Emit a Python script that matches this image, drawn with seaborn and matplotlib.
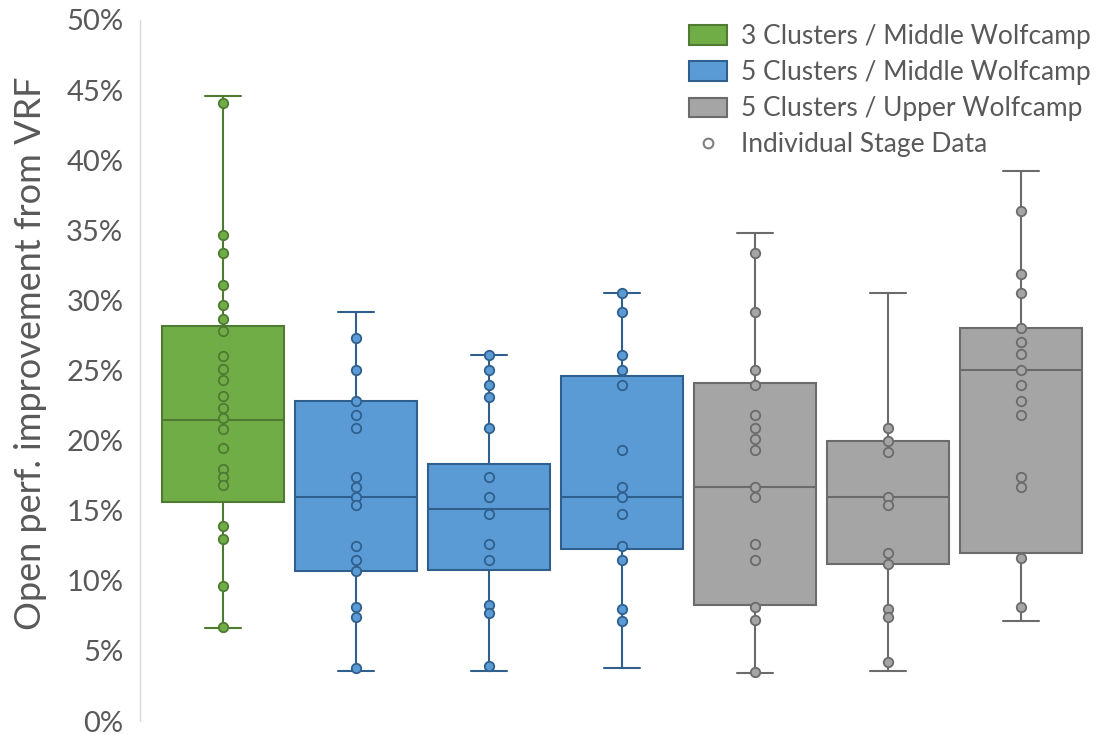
import numpy as np
import pandas as pd
import matplotlib
matplotlib.use("Agg")
import matplotlib.pyplot as plt
from matplotlib.patches import Patch
from matplotlib.lines import Line2D
import seaborn as sns

# Stage sets along the x axis (not labelled on the chart)
stage_sets = ["S1", "S2", "S3", "S4", "S5", "S6", "S7"]
series_names = ["3 Clusters / Middle Wolfcamp",
                "5 Clusters / Middle Wolfcamp",
                "5 Clusters / Upper Wolfcamp"]
series_of_set = [0, 1, 1, 1, 2, 2, 2]

# Box summaries (%): whisker ends, quartiles, median
box_low = [6.6, 3.6, 3.6, 3.8, 3.4, 3.6, 7.1]
box_q1 = [15.6, 10.7, 10.8, 12.3, 8.3, 11.2, 12.0]
box_med = [21.5, 16.0, 15.1, 16.0, 16.7, 16.0, 25.0]
box_q3 = [28.2, 22.8, 18.3, 24.6, 24.1, 20.0, 28.0]
box_high = [44.6, 29.2, 26.1, 30.5, 34.8, 30.5, 39.2]

# Individual stage data (%)
stages_1 = [44.1, 34.7, 33.4, 31.1, 29.7, 28.7, 27.8, 26.0, 25.1, 24.3, 23.2,
            22.3, 21.6, 20.8, 19.5, 18.0, 17.4, 16.8, 13.9, 13.0, 9.6, 6.7]
stages_2 = [27.3, 25.0, 22.8, 21.8, 20.9, 17.4, 16.7, 16.0, 15.4, 12.5, 11.5,
            10.7, 8.1, 7.4, 3.8]
stages_3 = [26.1, 25.0, 24.0, 23.1, 20.9, 17.4, 16.0, 14.8, 12.6, 11.5, 8.3,
            7.7, 3.9]
stages_4 = [30.5, 29.2, 26.1, 25.0, 24.0, 19.3, 16.7, 16.0, 14.8, 12.5, 11.5,
            8.0, 7.1]
stages_5 = [33.4, 29.2, 25.0, 24.0, 21.8, 20.9, 20.1, 19.3, 16.7, 16.0, 12.6,
            11.5, 8.1, 7.2, 3.5]
stages_6 = [20.9, 20.0, 19.2, 16.0, 15.4, 12.0, 11.2, 8.0, 7.4, 4.2]
stages_7 = [36.4, 31.9, 30.5, 28.0, 27.0, 26.2, 25.0, 24.0, 22.8, 21.8, 17.4,
            16.7, 11.6, 8.1]
stage_values = [stages_1, stages_2, stages_3, stages_4, stages_5, stages_6, stages_7]

y_ticks = [0, 5, 10, 15, 20, 25, 30, 35, 40, 45, 50]
y_label = "Open perf. improvement from VRF"
points_label = "Individual Stage Data"

fill_colors = ["#70AD47", "#5B9BD5", "#A5A5A5"]
edge_colors = ["#4E7A31", "#2F5F8C", "#6B6B6B"]
text_color = "#595959"

# Long-form tables
box_rows = []
for i, s in enumerate(stage_sets):
    for v in (box_low[i], box_q1[i], box_med[i], box_q3[i], box_high[i]):
        box_rows.append({"set": s, "series": series_of_set[i], "value": v})
box_df = pd.DataFrame(box_rows)

pt_rows = []
for i, s in enumerate(stage_sets):
    for v in stage_values[i]:
        pt_rows.append({"set": s, "series": series_of_set[i], "value": v})
pt_df = pd.DataFrame(pt_rows)

sns.set_theme(style="white")
plt.rcParams["font.family"] = ["Lato", "DejaVu Sans"]

fig = plt.figure(figsize=(10.97, 7.35), dpi=100)
ax = fig.add_axes([140 / 1097, 14 / 735, 953 / 1097, 701 / 735])

for k in range(3):
    sub = box_df[box_df["series"] == k]
    sns.boxplot(data=sub, x="set", y="value", order=stage_sets, ax=ax,
                color=fill_colors[k], linecolor=edge_colors[k], saturation=1,
                width=0.92, whis=(0, 100), showfliers=False, linewidth=1.5,
                capwidths=0.27)
for k in range(3):
    sub = pt_df[pt_df["series"] == k]
    sns.stripplot(data=sub, x="set", y="value", order=stage_sets, ax=ax,
                  color=fill_colors[k], edgecolor=edge_colors[k], linewidth=1.3,
                  size=6.8, jitter=False, zorder=5)

ax.set_xlim(-0.624, 6.541)
ax.set_ylim(0, 50)
ax.set_yticks(y_ticks)
ax.set_yticklabels([f"{t}%" for t in y_ticks], color=text_color, fontsize=21)
ax.set_xticks([])
ax.set_xlabel("")
ax.set_ylabel(y_label, color=text_color, fontsize=26, labelpad=14)
ax.yaxis.label.set_y(0.524)
ax.tick_params(axis="y", length=0, pad=12)
for side in ("top", "right", "bottom"):
    ax.spines[side].set_visible(False)
ax.spines["left"].set_color("#D9D9D9")
ax.spines["left"].set_linewidth(1.0)
ax.grid(False)

handles = [Patch(facecolor=fill_colors[k], edgecolor=edge_colors[k], linewidth=1.5)
           for k in range(3)]
handles.append(Line2D([], [], linestyle="none", marker="o", markersize=7,
                      markerfacecolor="white", markeredgecolor="#7F7F7F",
                      markeredgewidth=1.5))
leg = fig.legend(handles, series_names + [points_label], loc="upper right",
                 bbox_to_anchor=(1.0, 0.976), frameon=False, fontsize=19,
                 handlelength=1.45, handleheight=0.75, handletextpad=0.5,
                 labelspacing=0.42, borderaxespad=0.0, borderpad=0.25)
for t in leg.get_texts():
    t.set_color(text_color)

fig.savefig("out.png", dpi=100)
